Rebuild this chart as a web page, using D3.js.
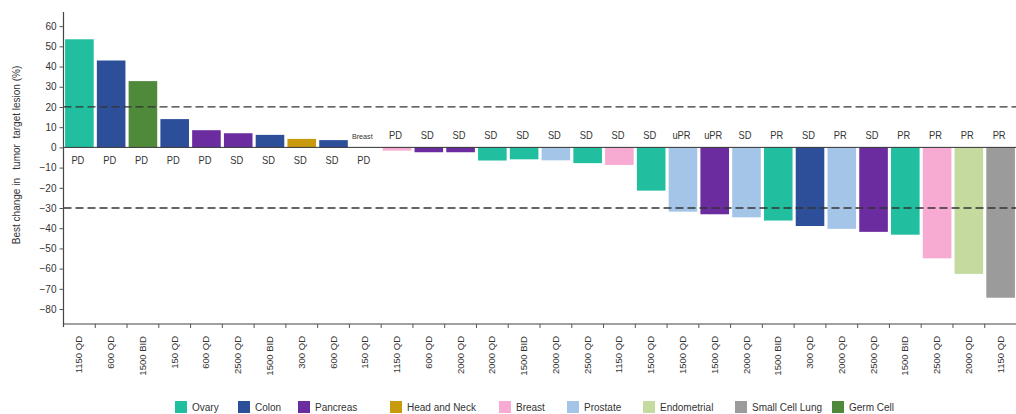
<!DOCTYPE html>
<html>
<head>
<meta charset="utf-8">
<script src="https://cdn.jsdelivr.net/npm/d3@7"></script>
<style>
  html, body { margin: 0; padding: 0; background: #fff; }
  svg { display: block; font-family: "Liberation Sans", Arial, sans-serif; }
</style>
</head>
<body>
<svg id="chart" width="1016" height="414"></svg>
<script>
// ---- data ----
const doses = ["1150 QD","600 QD","1500 BID","150 QD","600 QD","2500 QD","1500 BID","300 QD","600 QD","150 QD",
  "1150 QD","600 QD","2000 QD","2000 QD","1500 BID","2000 QD","2500 QD","1150 QD","1500 QD","1500 QD",
  "1500 QD","2000 QD","1500 BID","300 QD","2000 QD","2500 QD","1500 BID","2500 QD","2000 QD","1150 QD"];
const responses = ["PD","PD","PD","PD","PD","SD","SD","SD","SD","PD",
  "PD","SD","SD","SD","SD","SD","SD","SD","SD","uPR",
  "uPR","SD","PR","SD","PR","SD","PR","PR","PR","PR"];
const changes = [53.5, 43, 32.8, 14, 8.5, 7, 6.2, 4.2, 3.6, 0,
  -1.6, -2.4, -2.4, -6.5, -5.9, -6.4, -7.8, -8.7, -21.4, -31.8,
  -33.1, -34.6, -36.2, -38.9, -40.3, -41.8, -43.2, -54.9, -62.6, -74.4];
const tumors = ["Ovary","Colon","Germ Cell","Colon","Pancreas","Pancreas","Colon","Head and Neck","Colon","Breast",
  "Breast","Pancreas","Pancreas","Ovary","Ovary","Prostate","Ovary","Breast","Ovary","Prostate",
  "Pancreas","Prostate","Ovary","Colon","Prostate","Pancreas","Ovary","Breast","Endometrial","Small Cell Lung"];
const legendNames = ["Ovary","Colon","Pancreas","Head and Neck","Breast","Prostate","Endometrial","Small Cell Lung","Germ Cell"];
const legendColors = ["#21bfa0","#2d4f9a","#6a2c9e","#c99a0e","#f7abd3","#a4c5e7","#c4da9f","#9b9b9b","#4e8a3a"];
const yTicks = [60,50,40,30,20,10,0,-10,-20,-30,-40,-50,-60,-70,-80];
const refLines = [20, -30];
const annotation = "Breast";

// ---- layout ----
const svg = d3.select("#chart");
const pLeft = 63.5, pRight = 1016.5, pTop = 12, pBottom = 324;
const color = d3.scaleOrdinal().domain(legendNames).range(legendColors);
const idx = d3.range(changes.length);
const x = d3.scaleBand().domain(idx).range([pLeft, pRight]).paddingInner(0.1).paddingOuter(0.05);
const y = d3.scaleLinear().domain([-87.4, 67]).range([pBottom, pTop]);
const textCol = "#333";

// bars
svg.append("g").selectAll("rect").data(idx).join("rect")
  .attr("x", i => x(i))
  .attr("width", x.bandwidth())
  .attr("y", i => y(Math.max(0, changes[i])))
  .attr("height", i => Math.abs(y(changes[i]) - y(0)))
  .attr("fill", i => color(tumors[i]));

// zero line
svg.append("line").attr("x1", pLeft).attr("x2", pRight).attr("y1", y(0)).attr("y2", y(0))
  .attr("stroke", "#333").attr("stroke-width", 1);

// dashed reference lines
svg.append("g").selectAll("line").data(refLines).join("line")
  .attr("x1", pLeft).attr("x2", pRight)
  .attr("y1", d => y(d)).attr("y2", d => y(d))
  .attr("stroke", "#333").attr("stroke-width", 1.3).attr("stroke-dasharray", "8,4");

// response labels
svg.append("g").selectAll("text").data(idx).join("text")
  .attr("transform", i => `translate(${x(i) + x.bandwidth()/2 - 1.5},${changes[i] < 0 ? y(0) - 8.5 : y(0) + 16.5}) scale(0.85,1)`)
  .attr("text-anchor", "middle")
  .attr("font-size", 11).attr("fill", textCol)
  .text(i => responses[i]);

// annotation over the zero-change breast bar
const annIdx = changes.indexOf(0);
svg.append("text")
  .attr("transform", `translate(${x(annIdx) + x.bandwidth()/2 - 3},${y(0) - 8.5}) scale(0.9,1)`)
  .attr("text-anchor", "middle").attr("font-size", 8).attr("fill", textCol)
  .text(annotation);

// y axis
const yAxis = svg.append("g").attr("transform", `translate(${pLeft},0)`)
  .call(d3.axisLeft(y).tickValues(yTicks).tickSize(4).tickPadding(3).tickFormat(d3.format("d")));
yAxis.select(".domain").attr("d", `M0,${pTop}V${pBottom + 3}`).attr("stroke", "#444").attr("stroke-width", 1.2);
yAxis.selectAll(".tick line").attr("stroke", "#555");
yAxis.selectAll(".tick text").attr("font-size", 10).attr("fill", textCol).attr("font-family", "Liberation Sans, Arial, sans-serif");

// x axis (bottom)
const xAxis = svg.append("g").attr("transform", `translate(0,${pBottom})`)
  .call(d3.axisBottom(x).tickSize(0).tickFormat(i => doses[i]));
xAxis.select(".domain").attr("d", `M${pLeft},0H${pRight}`).attr("stroke", "#444").attr("stroke-width", 1.2);
xAxis.selectAll(".tick text")
  .attr("font-size", 9.5).attr("fill", textCol).attr("font-family", "Liberation Sans, Arial, sans-serif")
  .attr("transform", "rotate(-90)")
  .attr("text-anchor", "end")
  .attr("x", -12).attr("y", 0).attr("dy", "0.32em").attr("dx", 0);
// boundary ticks
const step = x.step();
svg.append("g").selectAll("line").data(idx.slice(1)).join("line")
  .attr("x1", i => x(i) - step * x.paddingInner() / 2).attr("x2", i => x(i) - step * x.paddingInner() / 2)
  .attr("y1", pBottom).attr("y2", pBottom + 4)
  .attr("stroke", "#555");

// y title
svg.append("text")
  .attr("transform", `translate(20,155) rotate(-90)`)
  .attr("text-anchor", "middle").attr("font-size", 10).attr("fill", textCol)
  .style("white-space", "pre")
  .text("Best change in   tumor  target lesion (%)");

// legend
const legendX = [175, 238, 298, 390, 499, 567, 643, 735, 832];
const lg = svg.append("g").selectAll("g").data(legendNames).join("g")
  .attr("transform", (d, i) => `translate(${legendX[i]},401)`);
lg.append("rect").attr("width", 12).attr("height", 12).attr("fill", d => color(d));
lg.append("text").attr("x", 17).attr("y", 10).attr("font-size", 10).attr("fill", textCol)
  .text(d => d);
</script>
</body>
</html>
